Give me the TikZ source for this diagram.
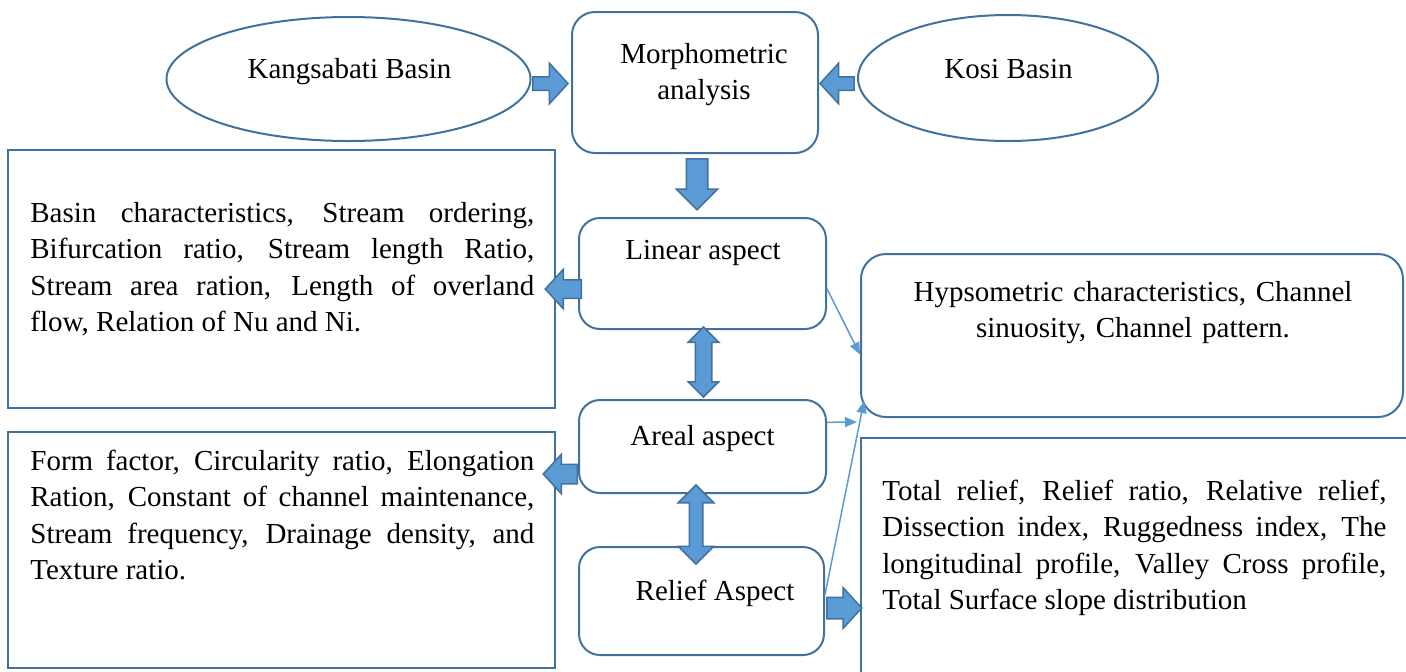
\documentclass[tikz,border=0pt]{standalone}
\usepackage{fontspec}
\setmainfont{Liberation Serif}
\usetikzlibrary{shapes.geometric,shapes.arrows,arrows.meta,calc}
\definecolor{boxline}{HTML}{41719C}
\definecolor{arrowfill}{HTML}{5B9BD5}
\begin{document}
\begin{tikzpicture}[x=0.5pt,y=-0.5pt,font=\fontsize{14.5pt}{18.25pt}\selectfont,
        outline/.style={draw=boxline,fill=white,line width=1pt,inner sep=0pt},
        oval/.style={outline,ellipse},
        roundbox/.style={outline,rounded corners=10.5pt},
        words/.style={inner sep=0pt,anchor=base},
        para/.style={inner sep=0pt,anchor=base west,text width=252pt,align=justify},
        fatarrow/.style={single arrow,draw=boxline,fill=arrowfill,line width=0.75pt,single arrow tip angle=95},
        twoway/.style={double arrow,draw=boxline,fill=arrowfill,line width=0.75pt,double arrow tip angle=90,shape border rotate=90},
        link/.style={draw=arrowfill,line width=0.75pt,-{Triangle[length=6pt,width=5pt]}}]
        \useasboundingbox (0,0) rectangle (1406,671);
        \clip (0,0) rectangle (1406,671);

        \node[oval,minimum width=182pt,minimum height=62pt] (kang) at (348.5,79) {};
        \node[oval,minimum width=150pt,minimum height=63pt] (kosi) at (1008,78) {};
        \node[roundbox,rounded corners=11.5pt,minimum width=123pt,minimum height=70.5pt] (morph) at (695,82.5) {};
        \node[roundbox,minimum width=123.5pt,minimum height=55.5pt] (lin) at (702.5,273.5) {};
        \node[roundbox,minimum width=123.5pt,minimum height=46.5pt] (are) at (702.5,446.5) {};
        \node[roundbox,minimum width=122.5pt,minimum height=54pt] (rel) at (701.5,601) {};
        \node[roundbox,rounded corners=12.5pt,minimum width=271pt,minimum height=81.5pt] (hyp) at (1132,335.5) {};
        \node[outline,minimum width=273.5pt,minimum height=129pt] (basin) at (281.5,279) {};
        \node[outline,minimum width=273.5pt,minimum height=118pt] (forms) at (281.5,550) {};
        \node[outline,minimum width=289.5pt,minimum height=131pt] (reliefs) at (1150.5,569) {};

        \node[words] at (349.5,78) {Kangsabati Basin}; \node[words] at (1008.5,78) {Kosi Basin};
        \node[words,text width=110pt,align=center] at (704,63) {Morphometric\\analysis};
        \node[words] at (703,259) {Linear aspect}; \node[words] at (702.5,445) {Areal aspect}; \node[words] at (715,600) {Relief Aspect};
        \node[words,text width=262pt,align=center] at (1133,301) {Hypsometric characteristics, Channel\\sinuosity, Channel pattern.};
        \node[para] at (30,222) {Basin characteristics, Stream ordering,\linebreak Bifurcation ratio, Stream length Ratio,\linebreak Stream area ration, Length of overland\linebreak flow, Relation of Nu and Ni.};
        \node[para] at (30,470) {Form factor, Circularity ratio, Elongation\linebreak Ration, Constant of channel maintenance,\linebreak Stream frequency, Drainage density, and\linebreak Texture ratio.};
        \node[para] at (882,500) {Total relief, Relief ratio, Relative relief,\linebreak Dissection index, Ruggedness index, The\linebreak longitudinal profile, Valley Cross profile,\linebreak Total Surface slope distribution};

        \node[fatarrow,inner sep=3pt,minimum height=17.5pt,single arrow head extend=6.75pt,anchor=tip] at ($(morph.west)+(-2,1)$) {};
        \node[fatarrow,inner sep=3pt,minimum height=17pt,single arrow head extend=6.75pt,shape border rotate=180,anchor=tip] at ($(morph.east)+(0,1)$) {};
        \node[fatarrow,inner sep=5pt,minimum height=25.5pt,single arrow head extend=5pt,single arrow tip angle=90,shape border rotate=270,anchor=tail] at ($(morph.south)+(2,4)$) {};
        \node[fatarrow,inner sep=4.25pt,minimum height=18pt,single arrow head extend=5.25pt,shape border rotate=180,anchor=tail] at ($(lin.west)+(4,15.5)$) {};
        \node[fatarrow,inner sep=4.5pt,minimum height=17pt,single arrow head extend=5pt,shape border rotate=180,anchor=tail] at ($(are.west)+(0,27.5)$) {};
        \node[fatarrow,inner sep=5pt,minimum height=17.5pt,single arrow head extend=4.75pt,anchor=tail] at ($(rel.east)+(1,7)$) {};
        \node[twoway,inner sep=3.75pt,minimum height=35pt,double arrow head extend=3.5pt] at ($(lin.south)!.5!(are.north)+(1,-2.5)$) {};
        \node[twoway,inner sep=3pt,minimum height=39.5pt,double arrow head extend=5.5pt] at ($(are.south)!.5!(rel.north)+(-6,4.5)$) {};

        \coordinate (areaend) at ($(hyp.south west)+(-3,4)$); \coordinate (reliefend) at ($(hyp.south west)+(4,-17)$);
        \draw[link] (lin.-7) -- (hyp.184.7);
        \draw[link] (are.11) -- (areaend);
        \draw[link] (rel.3) -- (reliefend);
    \end{tikzpicture}
\end{document}
